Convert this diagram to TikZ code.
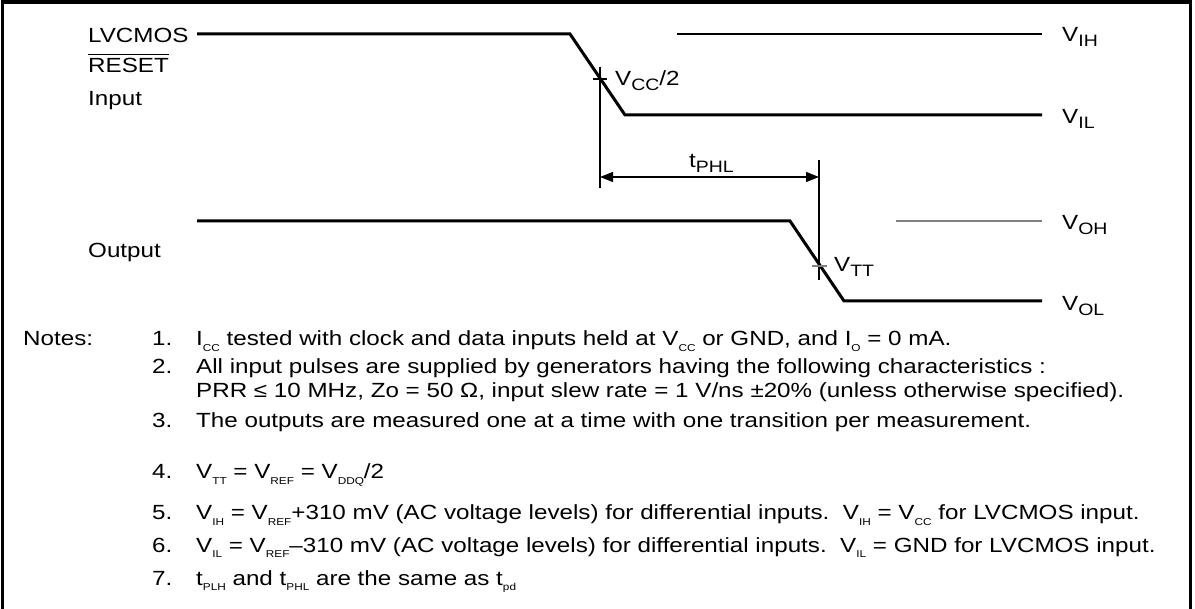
\documentclass[tikz,border=0pt]{standalone}
\usepackage{fontspec}
\setmainfont[FakeStretch=1.18]{Liberation Sans}
\usetikzlibrary{arrows.meta}
\newcommand\lsub[1]{\raisebox{-4.5pt}{\fontsize{16.5}{16.5}\selectfont #1}}
\newcommand\nsub[1]{\raisebox{-5.5pt}{\fontsize{10}{10}\selectfont #1}}
\begin{document}
\begin{tikzpicture}[x=1pt,y=-1pt,
  wave/.style={line width=3pt, line join=miter},
  thinref/.style={line width=1.5pt},
  dimline/.style={line width=1.2pt},
  lbl/.style={anchor=base west, inner sep=0pt, font=\fontsize{20.5}{24}\selectfont},
  note/.style={anchor=base west, inner sep=0pt, font=\fontsize{20.5}{24}\selectfont},
  dimarrow/.style={line width=1.2pt, {Triangle[length=13pt,width=10pt]}-{Triangle[length=13pt,width=10pt]}}]
\useasboundingbox (0,0) rectangle (1195,609);
\draw[line width=3.5pt] (2.5,620) -- (2.5,2) -- (1190.5,2) -- (1190.5,620);
% input waveform
\coordinate (i0) at (197,34);
\coordinate (i1) at (570,34);
\coordinate (i2) at (625,115);
\coordinate (i3) at (1042,115);
\draw[wave] (i0) -- (i1) -- (i2) -- (i3);
\coordinate (vih0) at (677,34);
\coordinate (vih1) at (1042,34);
\draw[thinref] (vih0) -- (vih1);
% VCC/2 marker
\coordinate (m1t) at (600,67);
\coordinate (m1b) at (600,188);
\draw[dimline] (m1t) -- (m1b);
\draw[dimline] (593,79) -- (607,79);
% output waveform
\coordinate (o0) at (197,221);
\coordinate (o1) at (790,221);
\coordinate (o2) at (844,301);
\coordinate (o3) at (1042,301);
\draw[wave] (o0) -- (o1) -- (o2) -- (o3);
\coordinate (voh0) at (896,221);
\coordinate (voh1) at (1042,221);
\draw[thinref, gray] (voh0) -- (voh1);
% VTT marker
\coordinate (m2t) at (819,160);
\coordinate (m2b) at (819,280);
\draw[dimline] (m2t) -- (m2b);
\draw[dimline, gray] (812,266) -- (827,266);
% tPHL arrow
\coordinate (a0) at (600,177);
\coordinate (a1) at (819,177);
\draw[dimarrow] (a0) -- (a1);
% labels
\node[lbl] (lv) at (88,43) {LVCMOS};
\node[lbl] (rs) at (88,73) {RESET};
\draw[line width=1.2pt] ([yshift=4pt]rs.north west) -- ([yshift=4pt]rs.north east);
\node[lbl] (inp) at (88,106) {Input};
\node[lbl] (outp) at (88,258) {Output};
\node[lbl] (vcc) at (615,86) {V\lsub{CC}/2};
\node[lbl] (tphl) at (689,168) {t\lsub{PHL}};
\node[lbl] (vtt) at (834,272) {V\lsub{TT}};
\node[lbl] (lih) at (1062,42) {V\lsub{IH}};
\node[lbl] (lil) at (1062,124) {V\lsub{IL}};
\node[lbl] (loh) at (1062,230) {V\lsub{OH}};
\node[lbl] (lol) at (1062,311) {V\lsub{OL}};
% notes
\node[note] (nt) at (23,346) {Notes:};
\node[note] (n1) at (152,346) {1.};
\node[note] (t1) at (196,346) {I\nsub{CC} tested with clock and data inputs held at V\nsub{CC} or GND, and I\nsub{O} = 0 mA.};
\node[note] (n2) at (152,374) {2.};
\node[note] (t2) at (196,374) {All input pulses are supplied by generators having the following characteristics :};
\node[note] (t2b) at (196,398) {PRR ≤ 10 MHz, Zo = 50 Ω, input slew rate = 1 V/ns ±20\% (unless otherwise specified).};
\node[note] (n3) at (152,428) {3.};
\node[note] (t3) at (196,428) {The outputs are measured one at a time with one transition per measurement.};
\node[note] (n4) at (152,479) {4.};
\node[note] (t4) at (196,479) {V\nsub{TT} = V\nsub{REF} = V\nsub{DDQ}/2};
\node[note] (n5) at (152,520) {5.};
\node[note] (t5) at (196,520) {V\nsub{IH} = V\nsub{REF}+310 mV (AC voltage levels) for differential inputs.\ \ V\nsub{IH} = V\nsub{CC} for LVCMOS input.};
\node[note] (n6) at (152,552) {6.};
\node[note] (t6) at (196,552) {V\nsub{IL} = V\nsub{REF}–310 mV (AC voltage levels) for differential inputs.\ \ V\nsub{IL} = GND for LVCMOS input.};
\node[note] (n7) at (152,585) {7.};
\node[note] (t7) at (196,585) {t\nsub{PLH} and t\nsub{PHL} are the same as t\nsub{pd}};
\end{tikzpicture}
\end{document}
